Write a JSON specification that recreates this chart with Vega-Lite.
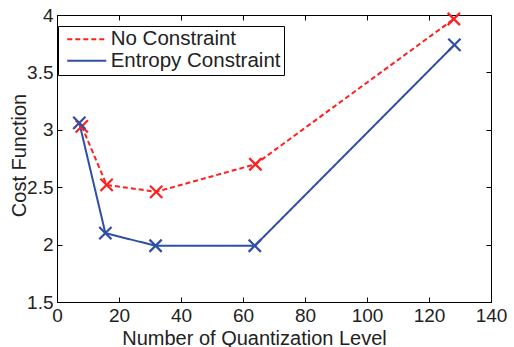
{
  "$schema": "https://vega.github.io/schema/vega-lite/v6.json",
  "autosize": "none",
  "width": 434,
  "height": 287,
  "padding": {"left": 57, "top": 15, "right": 23, "bottom": 45},
  "background": "white",
  "data": {
    "values": [
      {"level": 8, "cost": 3.03, "series": "No Constraint"},
      {"level": 16, "cost": 2.52, "series": "No Constraint"},
      {"level": 32, "cost": 2.46, "series": "No Constraint"},
      {"level": 64, "cost": 2.70, "series": "No Constraint"},
      {"level": 128, "cost": 3.965, "series": "No Constraint"},
      {"level": 7.2, "cost": 3.06, "series": "Entropy Constraint"},
      {"level": 15.6, "cost": 2.10, "series": "Entropy Constraint"},
      {"level": 31.8, "cost": 1.99, "series": "Entropy Constraint"},
      {"level": 63.8, "cost": 1.99, "series": "Entropy Constraint"},
      {"level": 128.2, "cost": 3.74, "series": "Entropy Constraint"}
    ]
  },
  "layer": [
    {
      "mark": {"type": "line", "strokeWidth": 2, "clip": true},
      "encoding": {
        "x": {
          "field": "level", "type": "quantitative",
          "scale": {"domain": [0, 140], "nice": false, "zero": false},
          "axis": {"values": [0, 20, 40, 60, 80, 100, 120, 140], "title": "Number of Quantization Level", "orient": "bottom", "titleX": 197, "titleAlign": "center"}
        },
        "y": {
          "field": "cost", "type": "quantitative",
          "scale": {"domain": [1.5, 4], "nice": false, "zero": false},
          "axis": {"values": [1.5, 2, 2.5, 3, 3.5, 4], "format": ".1~f", "title": "Cost Function", "orient": "left", "titleY": 140}
        },
        "color": {
          "field": "series", "type": "nominal",
          "scale": {"domain": ["No Constraint", "Entropy Constraint"], "range": ["#ff1f1f", "#2f4fa6"]},
          "legend": {
            "title": null,
            "labelExpr": "datum.label + '\u2002\u2002\u2002\u2002'",
            "symbolType": "M-3,0H3",
            "symbolSize": 169,
            "symbolStrokeWidth": 2,
            "symbolOffset": 15.5,
            "labelOffset": 13.7,
            "labelLimit": 0,
            "encode": {"symbols": {"update": {"strokeDash": {"signal": "datum.value == 'No Constraint' ? [5, 3] : [1, 0]"}}}}
          }
        },
        "strokeDash": {
          "field": "series", "type": "nominal",
          "scale": {"domain": ["No Constraint", "Entropy Constraint"], "range": [[5, 3], [1, 0]]},
          "legend": null
        },
        "order": {"field": "level", "type": "quantitative"}
      }
    },
    {
      "mark": {"type": "point", "shape": "M-1,-1L1,1M-1,1L1,-1", "filled": false, "size": 150, "strokeWidth": 2.2, "opacity": 1, "clip": false},
      "encoding": {
        "x": {"field": "level", "type": "quantitative", "axis": {"orient": "top", "labels": false, "title": null, "values": [0, 20, 40, 60, 80, 100, 120, 140]}},
        "y": {"field": "cost", "type": "quantitative", "axis": {"orient": "right", "labels": false, "title": null, "values": [1.5, 2, 2.5, 3, 3.5, 4]}},
        "color": {"field": "series", "type": "nominal", "legend": null}
      }
    }
  ],
  "resolve": {"axis": {"x": "independent", "y": "independent"}},
  "config": {
    "font": "Liberation Sans",
    "view": {"stroke": "#000", "strokeWidth": 1},
    "axis": {
      "grid": false,
      "domainColor": "#000",
      "tickColor": "#000",
      "tickSize": -5,
      "labelPadding": 9,
      "labelFontSize": 19,
      "labelColor": "#222",
      "labelFont": "Liberation Sans",
      "labelOverlap": false,
      "labelFlush": false,
      "titleFontSize": 20,
      "titleFontWeight": "normal",
      "titleColor": "#222",
      "titleFont": "Liberation Sans"
    },
    "axisX": {"titlePadding": 3},
    "axisY": {"titlePadding": -3},
    "legend": {
      "orient": "none",
      "legendX": 1,
      "legendY": 11,
      "strokeColor": "#000",
      "fillColor": "#fff",
      "padding": 3,
      "labelFontSize": 20.5,
      "labelColor": "#222",
      "labelFont": "Liberation Sans",
      "labelLimit": 0,
      "symbolType": "M-3,0H3",
      "symbolSize": 169,
      "symbolStrokeWidth": 2,
      "symbolOffset": 15.5,
      "labelOffset": 13.7,
      "rowPadding": 0.5
    }
  }
}
